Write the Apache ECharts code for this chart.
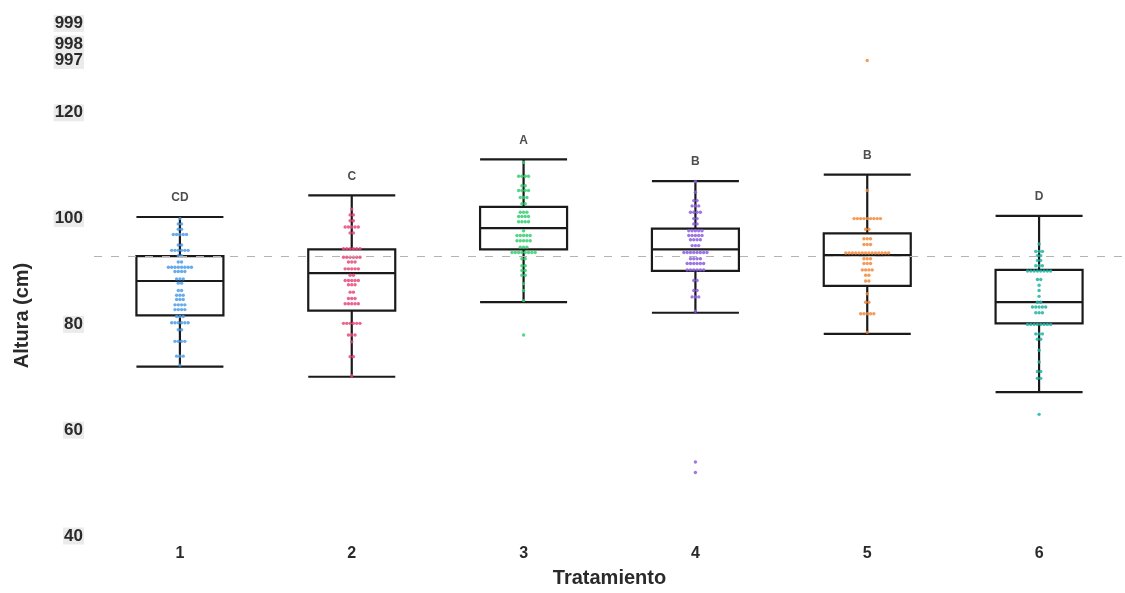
<!DOCTYPE html>
<html>
<head>
<meta charset="utf-8">
<script src="https://cdn.jsdelivr.net/npm/echarts@6/dist/echarts.min.js"></script>
<style>html,body{margin:0;padding:0;background:#fff}#chart{width:1125px;height:593px}</style>
</head>
<body>
<div id="chart"></div>
<script>
// ---------- data ----------
const categories = ['1', '2', '3', '4', '5', '6'];
// boxes: [lower whisker, Q1, median, Q3, upper whisker]
const boxStats = [
  [72.0, 81.7, 88.2, 92.9, 100.3],
  [70.1, 82.6, 89.7, 94.2, 104.4],
  [84.2, 94.2, 98.2, 102.2, 111.2],
  [82.2, 90.1, 94.2, 98.1, 107.1],
  [78.2, 87.3, 93.1, 97.2, 108.3],
  [67.2, 80.2, 84.2, 90.3, 100.5]
];
const groupLetters = ['CD', 'C', 'A', 'B', 'B', 'D'];
const grandMean = 92.9;

const alturaT1 = [100, 99, 99, 98, 98, 97, 97, 97, 97, 97, 95, 95, 94, 94, 94, 94, 94, 94, 93, 93,
  91.8, 91.8, 90.8, 90.8, 90.8, 90.8, 90.8, 90.8, 90.8, 90.8, 90, 90, 90, 90, 88.6, 88.6, 88.6,
  87.8, 87.8, 86.4, 86.4, 85.5, 85.5, 85.5, 84.7, 84.7, 84.7, 83.7, 83.7, 83.7, 83.7,
  82.8, 82.8, 82.8, 82.8, 81.5, 81.5, 81.5, 80.3, 80.3, 80.3, 80.3, 80.3, 80.3, 79, 79,
  76.8, 76.8, 76.8, 76.8, 74, 74, 74, 72.3];
const alturaT2 = [101.8, 100.7, 100.7, 99.6, 99.6, 98.4, 98.4, 98.4, 98.4, 98.4, 97.3, 97.3,
  94.3, 94.3, 94.3, 94.3, 94.3, 94.3, 92.7, 92.7, 92.7, 92.7, 92.7, 92.7, 91.8, 91.8, 91.8,
  90.5, 90.5, 90.5, 90.5, 90.5, 89.3, 89.3, 88.3, 88.3, 88.3, 88.3, 88.3, 87.5, 87.5, 87.5,
  86.1, 86.1, 84.9, 84.9, 84.9, 83.9, 83.9, 83.9, 83.9, 83.9, 80.2, 80.2, 80.2, 80.2, 80.2, 80.2,
  78, 78, 78, 76.7, 73.9, 73.9, 70.3];
const alturaT3 = [110.6, 108, 108, 108, 108, 106.2, 106.2, 105.3, 105.3, 105.3, 105.3, 104, 104, 104,
  102.8, 102.8, 101.2, 101.2, 101.2, 100.4, 100.4, 100.4, 100.4, 99.4, 99.4, 99.4, 99.4, 97.7,
  96.8, 96.8, 96.8, 96.8, 96.8, 95.8, 95.8, 95.8, 95.8, 95.8, 94.6, 94.6, 94.6,
  93.6, 93.6, 93.6, 93.6, 93.6, 93.6, 93.6, 93.6, 92.4, 92.4, 91.1, 91.1, 90.2, 90.2, 89.3, 89.3,
  87.7, 86.4, 84.5, 78];
const alturaT4 = [107, 105, 103.4, 103.4, 102.4, 102.4, 102.4, 101.2, 101.2, 101.2, 101.2, 100, 100, 99, 99,
  97.7, 97.7, 97.7, 97.7, 97.7, 96.8, 96.8, 96.8, 96.8, 96.8, 96, 96, 96, 96, 94.9, 94.9, 94.9,
  93.6, 93.6, 93.6, 93.6, 93.6, 93.6, 93.6, 93.6, 92.4, 92.4, 92.4, 92.4,
  91.5, 91.5, 91.5, 91.5, 91.5, 91.5, 90.3, 90.3, 90.3, 90.3, 90.3, 90.3, 88.3, 88.3,
  86.4, 86.4, 85.2, 85.2, 85.2, 82.5, 54, 52];
const alturaT5 = [997, 105.3, 100, 100, 100, 100, 100, 100, 100, 100, 100, 98, 98, 96.2, 96.2, 96.2,
  95.1, 95.1, 95.1, 93.5, 93.5, 93.5, 93.5, 93.5, 93.5, 93.5, 93.5, 93.5, 93.5, 93.5, 93.5, 93.5, 93.5,
  92.4, 92.4, 92.4, 91.5, 91.5, 91.5, 90.3, 90.3, 90.3, 90.3, 89.3, 89.3, 88.2, 88.2,
  85.8, 84.2, 84.2, 82, 82, 82, 82, 82, 78.5];
const alturaT6 = [95.2, 93.8, 93.8, 93.8, 93, 93, 92.1, 92.1, 91.1, 91.1, 91.1,
  90.1, 90.1, 90.1, 90.1, 90.1, 90.1, 90.1, 90.1, 88.5, 88.5, 87.4, 86.4, 85.3, 84.2, 84.2,
  83.3, 83.3, 83.3, 83.3, 83.3, 82.2, 82.2, 82.2, 80, 80, 80, 80, 80, 80, 80, 80,
  78.2, 78.2, 78.2, 77.2, 77.2, 75.1, 72.9, 71.1, 71.1, 69.8, 69.8, 63];
const groupData = [alturaT1, alturaT2, alturaT3, alturaT4, alturaT5, alturaT6];

// y tick labels (the axis is broken above 120)
const yTickLabels = ['40', '60', '80', '100', '120', '997', '998', '999'];
const brokenValues = [997, 998, 999];

// ---------- layout / style ----------
const brokenPos = [129.9, 133.0, 136.9];   // where the broken-segment ticks sit on the drawn scale
const groupColors = ['#4f9de8', '#e8497a', '#36cf72', '#8b5fe0', '#f28a3c', '#1db3a3'];
const FONT = '"Liberation Sans", Arial, sans-serif';

function toAxis(v) {
  if (v <= 120) return v;
  const i = brokenValues.indexOf(v);
  if (i >= 0) return brokenPos[i];
  return v;
}
const tickPositions = yTickLabels.map(s => toAxis(Number(s)));

const dotStep = 3.3;
function swarm(values, ci) {
  const counts = {}, seen = {};
  values.forEach(v => { counts[v] = (counts[v] || 0) + 1; });
  return values.map(v => {
    const k = seen[v] || 0; seen[v] = k + 1;
    const n = counts[v];
    const dx = (k - (n - 1) / 2) * dotStep;
    return { value: [ci, toAxis(v)], symbolOffset: [dx, 0] };
  });
}

const series = [{
  type: 'boxplot',
  data: boxStats,
  boxWidth: [87, 87],
  itemStyle: { color: 'rgba(255,255,255,0)', borderColor: '#1a1a1a', borderWidth: 2.2 },
  emphasis: { disabled: true },
  z: 2,
  markLine: {
    silent: true, symbol: 'none',
    lineStyle: { type: [8, 9], color: '#b3b3b3', width: 1 },
    label: { show: false },
    data: [{ yAxis: grandMean }]
  }
}];
groupData.forEach((vals, i) => {
  series.push({
    type: 'scatter',
    data: swarm(vals, i),
    symbol: 'circle',
    symbolSize: 3.4,
    itemStyle: { color: groupColors[i], opacity: 0.85 },
    z: 3,
    silent: true
  });
});
series.push({
  type: 'scatter',
  data: boxStats.map((b, i) => [i, b[4]]),
  symbolSize: 0,
  silent: true,
  label: {
    show: true, position: 'top', distance: 13,
    formatter: p => groupLetters[p.dataIndex],
    fontFamily: FONT, fontWeight: 'bold', fontSize: 12, color: '#222'
  },
  z: 4
});

const chart = echarts.init(document.getElementById('chart'));
chart.setOption({
  animation: false,
  backgroundColor: '#ffffff',
  grid: { left: 94, right: -4, top: 7, bottom: 54.8, containLabel: false },
  xAxis: {
    type: 'category',
    data: categories,
    name: 'Tratamiento',
    nameLocation: 'middle',
    nameGap: 32,
    nameTextStyle: { fontFamily: FONT, fontWeight: 'bold', fontSize: 20, color: '#2a2a2a' },
    axisLine: { show: false },
    axisTick: { show: false },
    axisLabel: { margin: 10, fontFamily: FONT, fontWeight: 'bold', fontSize: 16, color: '#2a2a2a' },
    splitLine: { show: false }
  },
  yAxis: {
    type: 'value',
    min: 40, max: 140,
    name: 'Altura (cm)',
    nameLocation: 'middle',
    nameGap: 62,
    nameRotate: 90,
    nameTextStyle: { fontFamily: FONT, fontWeight: 'bold', fontSize: 20, color: '#2a2a2a', padding: [0, 88, 0, 0] },
    axisLine: { show: false },
    axisTick: { show: false },
    splitLine: { show: false },
    axisLabel: {
      customValues: tickPositions,
      formatter: v => {
        const i = tickPositions.findIndex(p => Math.abs(p - v) < 0.01);
        return i >= 0 ? yTickLabels[i] : '';
      },
      margin: 10,
      fontFamily: FONT, fontWeight: 'bold', fontSize: 17, color: '#2a2a2a',
      backgroundColor: '#ebebeb', padding: [0, 1, 0, 1], lineHeight: 17
    }
  },
  series: series
});
</script>
</body>
</html>
